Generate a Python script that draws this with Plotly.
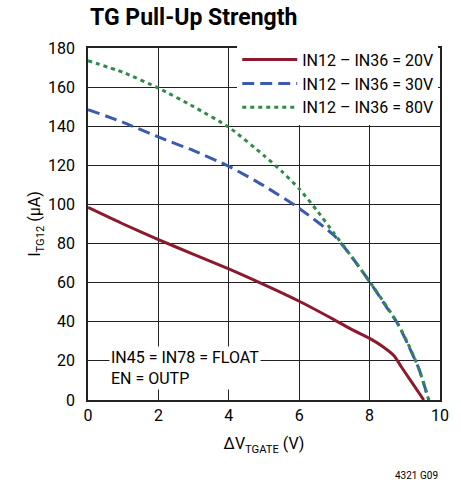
import plotly.graph_objects as go

# Data
x_20v = [0, 1, 2, 3, 4, 5, 6, 7, 7.5, 8, 8.4, 8.7, 8.9, 9.2, 9.54]
y_20v = [98.5, 90, 82, 74.5, 67, 59, 50.5, 41, 36, 31.5, 27, 22.5, 17, 9, 0]

x_30v = [0, 1, 2, 3, 4, 5, 6, 7, 7.5, 8, 8.5, 8.8, 9.1, 9.4, 9.68]
y_30v = [148.5, 142, 134.5, 127.5, 119.5, 109.5, 98, 84, 73, 60.5, 47, 39, 28, 16, 0]

x_80v = [0, 1, 2, 3, 4, 5, 5.5, 6, 6.5, 7, 7.5, 8, 8.5, 8.8, 9.1, 9.4, 9.68]
y_80v = [173.5, 167.5, 159.5, 150, 139.5, 125, 117, 108, 97, 85, 73, 60.5, 47.5, 39, 28.5, 16, 0]

x_ticks = [0, 2, 4, 6, 8, 10]
y_ticks = [0, 20, 40, 60, 80, 100, 120, 140, 160, 180]

FONT = "Roboto, Liberation Sans, sans-serif"

fig = go.Figure()
fig.add_trace(go.Scatter(x=x_20v, y=y_20v, mode="lines", name="IN12 – IN36 = 20V",
                         line=dict(color="#8B1A2E", width=3, shape="spline", smoothing=0.6)))
fig.add_trace(go.Scatter(x=x_30v, y=y_30v, mode="lines", name="IN12 – IN36 = 30V",
                         line=dict(color="#3B5BAE", width=3, dash="12px,6px", shape="spline", smoothing=0.6)))
fig.add_trace(go.Scatter(x=x_80v, y=y_80v, mode="lines", name="IN12 – IN36 = 80V",
                         line=dict(color="#2E8B4A", width=3, dash="4px,4px", shape="spline", smoothing=0.6)))

fig.update_layout(
    width=461, height=486,
    margin=dict(l=88, r=21, t=48, b=86),
    paper_bgcolor="white", plot_bgcolor="white",
    font=dict(family=FONT, size=16, color="black"),
    showlegend=True,
    legend=dict(x=0.995, y=1.015, xanchor="right", yanchor="top",
                bgcolor="white", borderwidth=0, font=dict(size=16, family=FONT),
                itemwidth=55, tracegroupgap=0),
    xaxis=dict(range=[0, 10], tickvals=x_ticks, showgrid=True, gridcolor="#222222", gridwidth=1,
               showline=True, linecolor="#222222", linewidth=1.5, mirror=True, zeroline=False,
               ticks="", ticklabelstandoff=0, tickfont=dict(size=16, family=FONT),
               title=dict(text="ΔV<sub>TGATE</sub> (V)", font=dict(size=16, family=FONT), standoff=14)),
    yaxis=dict(range=[0, 180], tickvals=y_ticks, showgrid=True, gridcolor="#222222", gridwidth=1,
               showline=True, linecolor="#222222", linewidth=1.5, mirror=True, zeroline=False,
               ticks="", ticklabelstandoff=8, tickfont=dict(size=16, family=FONT),
               title=dict(text="I<sub>TG12</sub> (µA)", font=dict(size=16, family=FONT), standoff=3)),
    annotations=[
        dict(text="<b>TG Pull-Up Strength</b>", xref="paper", yref="paper", x=0, y=1,
             xanchor="left", yanchor="bottom", yshift=15, showarrow=False,
             font=dict(size=23, family=FONT)),
        dict(text="IN45 = IN78 = FLOAT<br>EN = OUTP", xref="x", yref="y", x=0.6, y=16.5,
             xanchor="left", yanchor="middle", align="left", showarrow=False,
             bgcolor="white", font=dict(size=16, family=FONT)),
        dict(text="4321 G09", xref="paper", yref="paper", x=1, y=0, xanchor="right",
             yanchor="top", yshift=-68, showarrow=False, font=dict(size=10, family=FONT)),
    ],
)

fig.write_html("out.html")
